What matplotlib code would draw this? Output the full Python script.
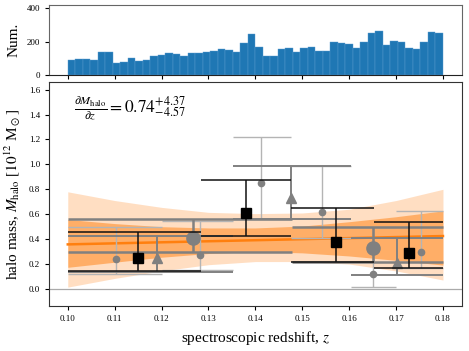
import numpy as np
import matplotlib
matplotlib.use("Agg")
import matplotlib.pyplot as plt

plt.rcParams['font.family'] = ['Liberation Serif', 'DejaVu Serif']
plt.rcParams['mathtext.fontset'] = 'stix'

# ---------------- data ----------------
hist_edges = np.linspace(0.10, 0.18, 51)
hist_counts = [86, 96, 96, 88, 137, 139, 72, 78, 100, 84,
               88, 112, 120, 131, 125, 112, 133, 133, 139, 143,
               155, 151, 139, 188, 243, 168, 110, 112, 155, 163,
               135, 161, 168, 141, 141, 196, 192, 186, 161, 196,
               249, 261, 176, 202, 196, 161, 153, 198, 259, 249]

# black squares
sq_z = [0.1150, 0.1381, 0.1571, 0.1727]
sq_m = [0.251, 0.611, 0.379, 0.286]
sq_lo = [0.144, 0.425, 0.219, 0.171]
sq_hi = [0.455, 0.873, 0.647, 0.540]
sq_edges = [0.100, 0.1285, 0.1477, 0.1653, 0.180]

# gray triangles
tri_z = [0.1191, 0.1477, 0.1702]
tri_m = [0.250, 0.730, 0.206]
tri_lo = [0.140, 0.560, 0.112]
tri_hi = [0.425, 0.990, 0.406]
tri_edges = [0.100, 0.1352, 0.1603, 0.180]

# big gray circles
bc_z = [0.1266, 0.1650]
bc_m = [0.410, 0.330]
bc_lo = [0.294, 0.219]
bc_hi = [0.560, 0.500]
bc_edges = [0.100, 0.1478, 0.180]

# small gray circles
sc_z = [0.1102, 0.1281, 0.1413, 0.1543, 0.1651, 0.1753]
sc_m = [0.240, 0.270, 0.847, 0.620, 0.118, 0.297]
sc_lo = [0.120, 0.152, 0.560, 0.406, 0.014, 0.166]
sc_hi = [0.500, 0.545, 1.216, 0.990, 0.500, 0.627]
sc_edges = [0.100, 0.120, 0.1352, 0.1477, 0.1603, 0.170, 0.180]

# fit line and bands
fit_z = [0.10, 0.18]
fit_m = [0.358, 0.425]
band_z = [0.10, 0.11, 0.12, 0.13, 0.14, 0.15, 0.16, 0.17, 0.18]
light_lo = [0.015, 0.085, 0.145, 0.195, 0.220, 0.220, 0.200, 0.145, 0.072]
light_hi = [0.780, 0.710, 0.655, 0.615, 0.605, 0.610, 0.640, 0.710, 0.800]
dark_lo = [0.174, 0.215, 0.255, 0.285, 0.300, 0.290, 0.265, 0.230, 0.192]
dark_hi = [0.558, 0.525, 0.500, 0.490, 0.490, 0.505, 0.540, 0.580, 0.627]

# ---------------- figure ----------------
fig = plt.figure(figsize=(4.69, 3.51), dpi=100)
axh = fig.add_axes([0.1045, 0.787, 0.880, 0.199])
ax = fig.add_axes([0.1045, 0.128, 0.880, 0.638])

axh.hist(hist_edges[:-1], bins=hist_edges, weights=hist_counts,
         color='#1f77b4', edgecolor='#5b9bd0', linewidth=0.3)
axh.set_xlim(0.096, 0.184)
axh.set_ylim(0, 420)
axh.set_yticks([0, 200, 400])
axh.set_xticks(np.arange(0.10, 0.1801, 0.01))
axh.set_xticklabels([])
axh.set_ylabel('Num.', fontsize=11)
axh.tick_params(labelsize=6.5, length=3, width=0.8, direction='out')
for s in ['top', 'right', 'left']:
    axh.spines[s].set_color('#666666')
axh.spines['bottom'].set_color('#222222')

# bands
ax.fill_between(band_z, light_lo, light_hi, color='#ff7f0e', alpha=0.25,
                linewidth=0, zorder=1)
ax.fill_between(band_z, dark_lo, dark_hi, color='#ff7f0e', alpha=0.5,
                linewidth=0, zorder=1.1)
ax.plot(fit_z, fit_m, color='#ff7f0e', lw=1.8, zorder=1.2)

ax.axhline(0.0, color='#aaaaaa', lw=0.9, zorder=0.5)


def draw(z, m, lo, hi, edges, lcol, lw, marker, mcol, ms, zo):
    left = edges[:-1]
    right = edges[1:]
    ax.vlines(z, lo, hi, color=lcol, lw=lw, zorder=zo)
    ax.hlines(hi, left, right, color=lcol, lw=lw, zorder=zo)
    ax.hlines(lo, left, right, color=lcol, lw=lw, zorder=zo)
    ax.plot(z, m, ls='none', marker=marker, color=mcol, ms=ms, zorder=zo + 0.1)


draw(sc_z, sc_m, sc_lo, sc_hi, sc_edges, '#b4b4b4', 1.0, 'o', '#808080', 4.5, 2)
draw(bc_z, bc_m, bc_lo, bc_hi, bc_edges, '#808080', 1.8, 'o', '#808080', 9.5, 3)
draw(tri_z, tri_m, tri_lo, tri_hi, tri_edges, '#808080', 1.4, '^', '#808080', 7, 3.5)
draw(sq_z, sq_m, sq_lo, sq_hi, sq_edges, '#111111', 1.1, 's', 'black', 6.8, 4)

ax.set_xlim(0.096, 0.184)
ax.set_ylim(-0.137, 1.66)
ax.set_xticks(np.arange(0.10, 0.1801, 0.01))
ax.set_xticklabels(['%.2f' % v for v in np.arange(0.10, 0.1801, 0.01)])
ax.set_yticks(np.arange(0.0, 1.61, 0.2))
ax.set_yticklabels(['%.1f' % v for v in np.arange(0.0, 1.61, 0.2)])
ax.tick_params(labelsize=6.5, length=3, width=0.8, direction='out')
for s in ax.spines.values():
    s.set_color('#333333')
ax.set_xlabel('spectroscopic redshift, $z$', fontsize=11)
ax.set_ylabel(r'halo mass, $M_{\rm halo}$ [$10^{12}$ M$_\odot$]', fontsize=11)

ax.text(0.06, 0.885,
        r'$\frac{\partial M_{\rm halo}}{\partial z}=0.74^{+4.37}_{-4.57}$',
        transform=ax.transAxes, fontsize=12.5, va='center', ha='left')

fig.savefig('out.png', dpi=100)
